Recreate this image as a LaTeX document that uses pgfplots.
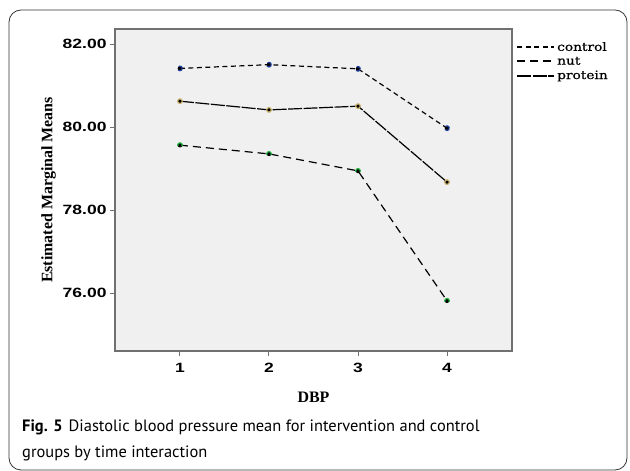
\documentclass[border=0pt]{standalone}
\usepackage{fontspec}
\usepackage{pgfplots}
\pgfplotsset{compat=1.18}
\setmainfont{PT Sans}
\newfontfamily\tickfont[FakeStretch=1.3]{Liberation Sans Bold}
\newfontfamily\labfont{Liberation Serif Bold}
\newfontfamily\legfont[FakeStretch=1.2,FakeBold=0.8]{DejaVu Serif}
\newfontfamily\capfont{PT Sans}

\definecolor{plotbg}{HTML}{F0F0F0}
\definecolor{framegray}{HTML}{707070}
\definecolor{mkblue}{HTML}{2040A0}
\definecolor{mkgreen}{HTML}{20B040}
\definecolor{mktan}{HTML}{C8B070}

\begin{document}
\begin{tikzpicture}[x=1bp,y=1bp]
\path[use as bounding box] (0,0) rectangle (630,471);
\draw[black!80, line width=0.8bp, rounded corners=12bp] (9,1) rectangle (627,461);
\coordinate (axisorigin) at (115,120);

\begin{axis}[
  at={(axisorigin)}, anchor=south west,
  scale only axis, width=397bp, height=322bp,
  xmin=0.27, xmax=4.73, ymin=74.61, ymax=82.37,
  axis background/.style={fill=plotbg},
  axis line style={framegray, line width=1.3bp},
  every tick/.style={framegray, line width=1bp},
  tick align=outside, major tick length=5bp,
  xtick={1,2,3,4}, xticklabels={1,2,3,4},
  ytick={76,78,80,82}, yticklabels={76.00,78.00,80.00,82.00},
  x tick label style={font=\tickfont\fontsize{13.5}{14}\selectfont, yshift=-4bp},
  y tick label style={font=\tickfont\fontsize{13.5}{14}\selectfont},
  xtick pos=bottom, ytick pos=left,
  xlabel={DBP}, ylabel={Estimated Marginal Means},
  xlabel style={font=\labfont\fontsize{16}{17}\selectfont, at={(0.5,0)}, yshift=-38bp, anchor=north},
  ylabel style={font=\labfont\fontsize{16}{17}\selectfont, xshift=0bp},
  clip=false,
  legend style={at={(1.01,0.966)}, anchor=north west, draw=none, fill=none,
    font=\legfont\fontsize{11.5}{12}\selectfont, row sep=0.5bp, inner sep=0pt,
    /tikz/every even column/.append style={column sep=1bp}},
  legend cell align=left,
  legend image code/.code={\draw[#1, mark=none, line width=2bp] (0bp,0bp) -- (37bp,0bp);},
  every axis plot/.append style={black, line width=1.2bp, mark=*, mark size=2.3bp, mark options={solid, fill=black, line width=0.8bp}},
]
\addplot[dash pattern=on 5bp off 3.5bp, mark options={draw=mkblue}] coordinates {
  (1,81.42) (2,81.51) (3,81.41) (4,79.98)
};
\addlegendentry{control}
\addplot[dash pattern=on 8bp off 5bp, mark options={draw=mkgreen}] coordinates {
  (1,79.57) (2,79.36) (3,78.95) (4,75.82)
};
\addlegendentry{nut}
\addplot[dash pattern=on 14bp off 1.5bp, mark options={draw=mktan}] coordinates {
  (1,80.63) (2,80.42) (3,80.51) (4,78.68)
};
\addlegendentry{protein}
\end{axis}

\node[anchor=base west, inner sep=0pt, font=\capfont\fontsize{16.5}{18}\selectfont] at (22,39)
  {\textbf{Fig. 5}\hspace{6bp}Diastolic blood pressure mean for intervention and control};
\node[anchor=base west, inner sep=0pt, font=\capfont\fontsize{16.5}{18}\selectfont] at (22,13)
  {groups by time interaction};
\end{tikzpicture}
\end{document}
